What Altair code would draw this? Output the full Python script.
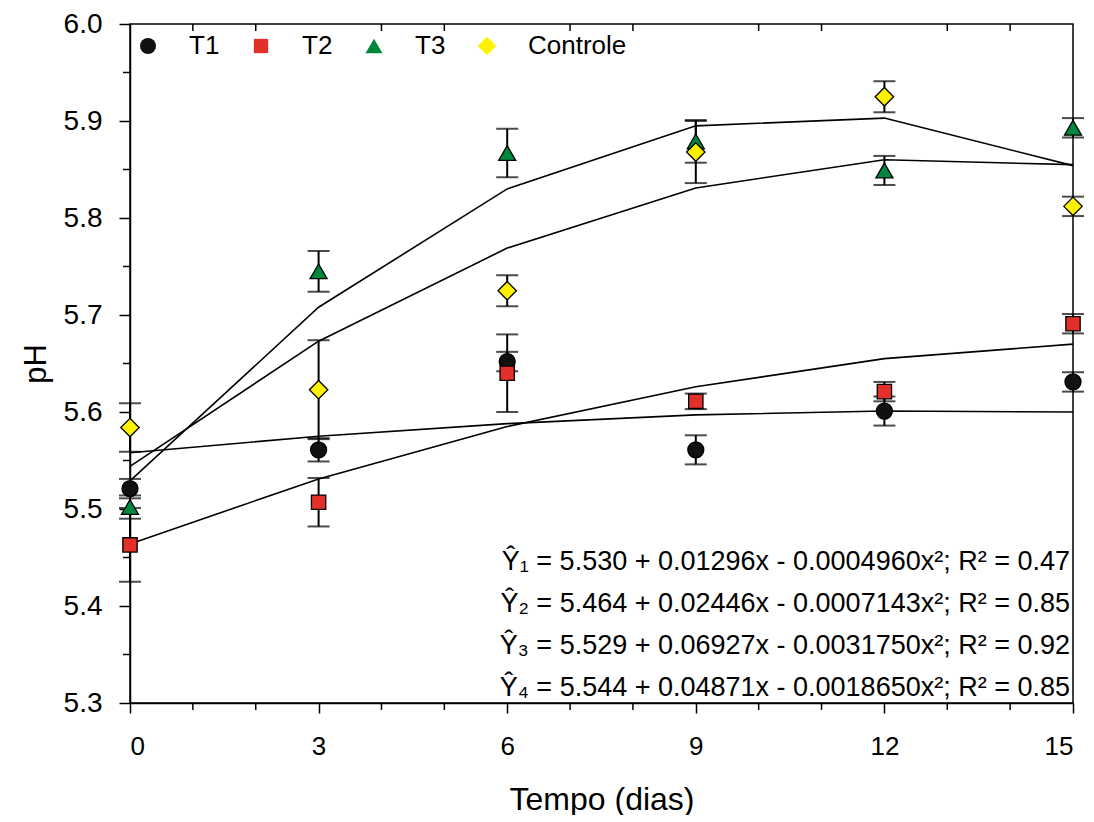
import altair as alt
import pandas as pd

# ---------------- data ----------------
days = [0, 3, 6, 9, 12, 15]
series_names = ["T1", "T2", "T3", "Controle"]

t1_mean = [5.521, 5.561, 5.652, 5.561, 5.601, 5.631]
t1_err = [0.010, 0.012, 0.010, 0.015, 0.015, 0.010]
t2_mean = [5.463, 5.507, 5.640, 5.611, 5.621, 5.691]
t2_err = [0.038, 0.025, 0.040, 0.008, 0.010, 0.010]
t3_mean = [5.502, 5.745, 5.867, 5.879, 5.849, 5.893]
t3_err = [0.012, 0.021, 0.025, 0.022, 0.015, 0.010]
ctrl_mean = [5.584, 5.623, 5.725, 5.868, 5.925, 5.812]
ctrl_err = [0.025, 0.051, 0.016, 0.032, 0.016, 0.010]

fit_t1 = [5.558, 5.575, 5.588, 5.597, 5.601, 5.600]
fit_t2 = [5.464, 5.531, 5.585, 5.626, 5.655, 5.670]
fit_t3 = [5.529, 5.708, 5.830, 5.895, 5.903, 5.854]
fit_ctrl = [5.544, 5.673, 5.769, 5.831, 5.860, 5.855]

x_major = [0, 3, 6, 9, 12, 15]
x_minor = [1, 2, 4, 5, 7, 8, 10, 11, 13, 14]
y_major = [5.3, 5.4, 5.5, 5.6, 5.7, 5.8, 5.9, 6.0]
y_minor = [5.35, 5.45, 5.55, 5.65, 5.75, 5.85, 5.95]

eq_lines = [
    "Ŷ₁ = 5.530 + 0.01296x - 0.0004960x²; R² = 0.47",
    "Ŷ₂ = 5.464 + 0.02446x - 0.0007143x²; R² = 0.85",
    "Ŷ₃ = 5.529 + 0.06927x - 0.0031750x²; R² = 0.92",
    "Ŷ₄ = 5.544 + 0.04871x - 0.0018650x²; R² = 0.85",
]

colors = ["#111111", "#e3302b", "#00873e", "#fff200"]
shapes = ["circle", "square", "triangle-up", "diamond"]
sizes = [256, 205, 290, 340]

FONT = "Liberation Sans"

# ---------------- tables ----------------
means = [t1_mean, t2_mean, t3_mean, ctrl_mean]
errs = [t1_err, t2_err, t3_err, ctrl_err]
fits = [fit_t1, fit_t2, fit_t3, fit_ctrl]

rows = []
for name, m, e in zip(series_names, means, errs):
    for d, mv, ev in zip(days, m, e):
        rows.append({"series": name, "day": d, "mean": mv, "lo": mv - ev, "hi": mv + ev})
pts = pd.DataFrame(rows)

frows = []
for name, f in zip(series_names, fits):
    for d, fv in zip(days, f):
        frows.append({"series": name, "day": d, "fit": fv})
fitdf = pd.DataFrame(frows)

xminor_df = pd.DataFrame({"day": x_minor})
yminor_df = pd.DataFrame({"v": y_minor})

# ---------------- scales / axes ----------------
xscale = alt.Scale(domain=[0, 15], nice=False, zero=False)
yscale = alt.Scale(domain=[5.3, 6.0], nice=False, zero=False)

xaxis = alt.Axis(
    values=x_major, title="Tempo (dias)", tickSize=10, labelPadding=20,
    labelFontSize=26, titleFontSize=32, titlePadding=25, format="d",
)
yaxis = alt.Axis(
    values=y_major, title="pH", tickSize=11, labelPadding=17, format=".1f",
    labelFontSize=28, titleFontSize=31, titlePadding=11,
)


def X(field):
    return alt.X(field, type="quantitative", scale=xscale, axis=xaxis)


def Y(field):
    return alt.Y(field, type="quantitative", scale=yscale, axis=yaxis)


legend = alt.Legend(
    title=None, orient="none", legendX=5, legendY=9, direction="horizontal",
    labelFontSize=26, labelFont=FONT, labelColor="black",
    symbolStrokeColor="black", symbolStrokeWidth=1.3, symbolOpacity=1,
    labelOffset=28, columnPadding=28, padding=0,
)

fit_lines = alt.Chart(fitdf).mark_line(color="black", strokeWidth=1.6).encode(
    x=X("day"), y=Y("fit"), detail="series:N"
)

err_rules = alt.Chart(pts).mark_rule(color="black", strokeWidth=2).encode(
    x=X("day"), y=Y("lo"), y2="hi"
)
cap_lo = alt.Chart(pts).mark_tick(color="black", orient="horizontal", size=22, thickness=2).encode(
    x=X("day"), y=Y("lo")
)
cap_hi = alt.Chart(pts).mark_tick(color="black", orient="horizontal", size=22, thickness=2).encode(
    x=X("day"), y=Y("hi")
)

points = alt.Chart(pts).mark_point(filled=True, opacity=1, stroke="black", strokeWidth=1.3).encode(
    x=X("day"),
    y=Y("mean"),
    color=alt.Color("series:N", scale=alt.Scale(domain=series_names, range=colors), legend=legend),
    shape=alt.Shape("series:N", scale=alt.Scale(domain=series_names, range=shapes), legend=legend),
    size=alt.Size("series:N", scale=alt.Scale(type="ordinal", domain=series_names, range=sizes), legend=legend),
)

left_minor = alt.Chart(yminor_df).mark_rule(color="black", strokeWidth=1.5).encode(
    y=Y("v"), x=alt.value(-7), x2=alt.value(0)
)
bottom_minor = alt.Chart(xminor_df).mark_rule(color="black", strokeWidth=1.5).encode(
    x=X("day"), y=alt.value(679), y2=alt.value(686)
)
top_minor = alt.Chart(xminor_df).mark_rule(color="black", strokeWidth=1.5).encode(
    x=X("day"), y=alt.value(0), y2=alt.value(7)
)

equations = alt.Chart(alt.Data(values=[{"k": 0}])).mark_text(
    align="right", baseline="alphabetic", fontSize=27, font=FONT, lineHeight=42, color="black"
).encode(x=alt.value(940), y=alt.value(546), text=alt.value(eq_lines))

chart = alt.layer(
    fit_lines, err_rules, cap_lo, cap_hi, points,
    left_minor, bottom_minor, top_minor, equations,
).properties(
    width=943, height=679,
    autosize=alt.AutoSizeParams(type="none"),
    padding={"left": 122, "top": 16, "right": 13, "bottom": 112},
    background="white",
).configure_view(
    stroke="black", strokeWidth=1.5
).configure_axis(
    grid=False, domainColor="black", domainWidth=1.5, tickColor="black", tickWidth=1.5,
    labelColor="black", titleColor="black", labelFont=FONT, titleFont=FONT,
    titleFontWeight="normal",
)

chart.save("out.html", embed_options={"renderer": "svg", "actions": False})
